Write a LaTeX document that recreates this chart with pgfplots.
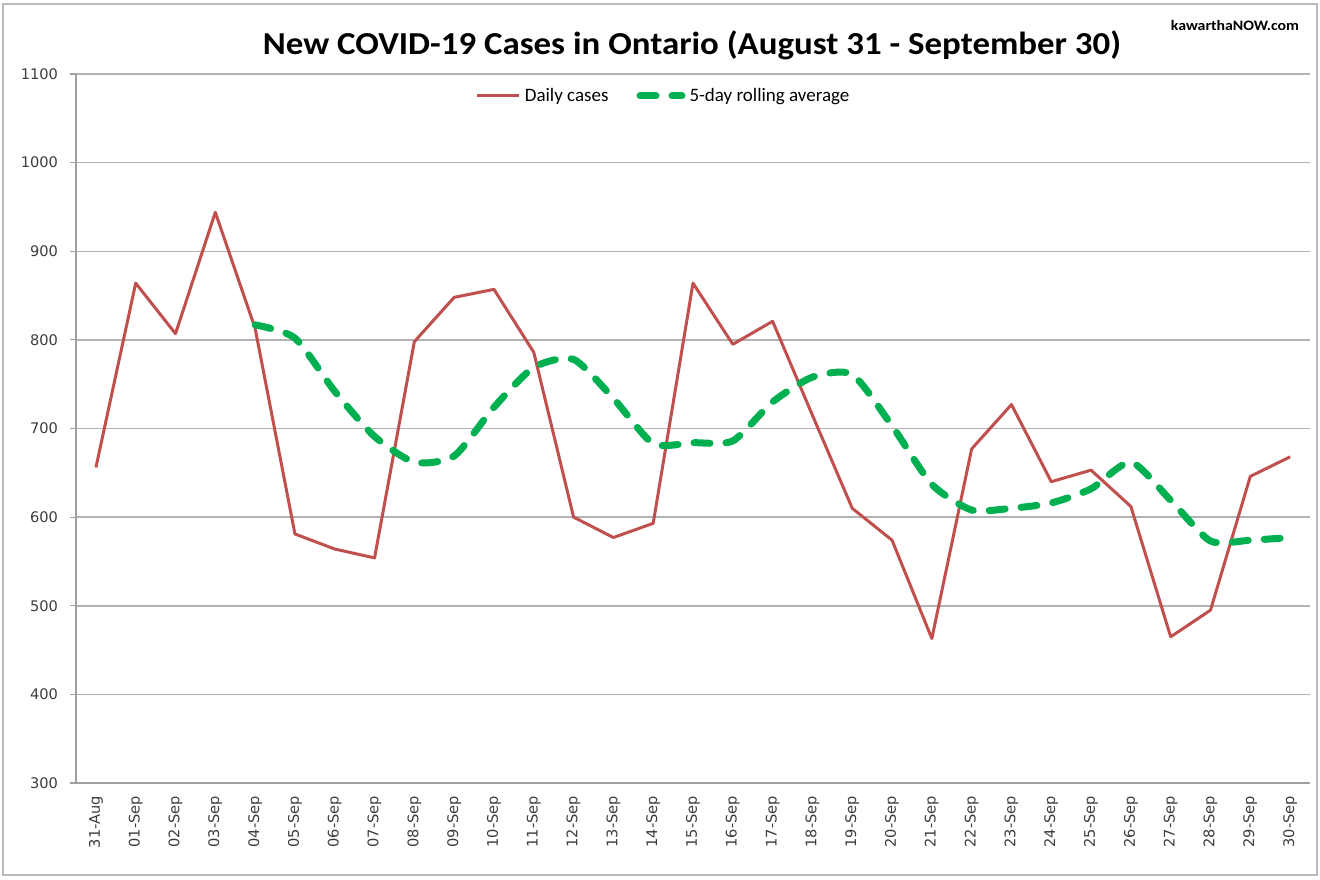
\documentclass[border=0pt]{standalone}
\usepackage{pgfplots}
\pgfplotsset{compat=1.18}
\usepackage{fontspec}
\setmainfont{Carlito}
\newfontfamily\verdana{DejaVu Sans}
\definecolor{redline}{RGB}{192,80,77}
\definecolor{greenline}{RGB}{0,176,80}
\definecolor{gridgray}{RGB}{178,178,178}
\definecolor{axgray}{RGB}{160,160,160}
\definecolor{ticktext}{RGB}{60,60,60}
\begin{document}
\begin{tikzpicture}
\useasboundingbox (0,0) rectangle (660pt,439.5pt);
\draw[gray!55,line width=0.6pt] (1.5pt,2pt) rectangle (658.5pt,437.5pt);
\node[font=\bfseries\fontsize{16}{18}\selectfont, xscale=1.09] at (346pt,417pt) {New COVID-19 Cases in Ontario (August 31 - September 30)};
\node[font=\bfseries\fontsize{7.2}{8}\selectfont, xscale=1.1] at (617.5pt,426.5pt) {kawarthaNOW.com};
\begin{axis}[
  at={(38pt,48pt)}, anchor=south west,
  scale only axis, width=617pt, height=354.5pt,
  xmin=-0.5, xmax=30.5, ymin=300, ymax=1100,
  ytick={300,400,...,1100},
  xtick={0,...,30},
  xticklabels={31-Aug,01-Sep,02-Sep,03-Sep,04-Sep,05-Sep,06-Sep,07-Sep,08-Sep,09-Sep,10-Sep,11-Sep,12-Sep,13-Sep,14-Sep,15-Sep,16-Sep,17-Sep,18-Sep,19-Sep,20-Sep,21-Sep,22-Sep,23-Sep,24-Sep,25-Sep,26-Sep,27-Sep,28-Sep,29-Sep,30-Sep},
  x tick label style={rotate=90, anchor=east, font=\verdana\fontsize{7.3}{8}\selectfont, text=ticktext},
  y tick label style={font=\verdana\fontsize{7.3}{8}\selectfont, text=ticktext, xshift=-2.5pt},
  /pgf/number format/assume math mode=true,
  /pgf/number format/1000 sep={},
  axis x line*=bottom, axis y line*=left,
  axis line style={axgray, line width=0.7pt, -},
  tick align=outside,
  x tick style={draw=none},
  y tick style={axgray, line width=0.6pt},
  major tick length=3pt,
  extra x ticks={-0.5,0.5,...,30.5},
  extra x tick labels={},
  extra x tick style={major tick length=3pt, tick style={axgray, line width=0.6pt}, grid=none},
  ymajorgrids, grid style={gridgray, line width=0.75pt},
  legend columns=2,
  legend style={draw=none, fill=none, at={(0.477,0.969)}, anchor=center, font=\fontsize{9.5}{10}\selectfont, /tikz/every even column/.append style={column sep=12pt}},
  legend cell align=left,
  legend image code/.code={\draw[#1] (0pt,0pt) -- (21pt,0pt);},
]
\addplot[redline, line width=1.5pt, line join=round] coordinates {
(0,656) (1,864) (2,807) (3,944) (4,813) (5,581) (6,564) (7,554) (8,798) (9,848) (10,857) (11,786) (12,600) (13,577) (14,593) (15,864) (16,795) (17,821) (18,715) (19,610) (20,574) (21,463) (22,677) (23,727) (24,640) (25,653) (26,612) (27,465) (28,495) (29,646) (30,668)
};
\addlegendentry{Daily cases}
\addplot[greenline, line width=3.5pt, line cap=round, dash pattern=on 8pt off 8pt, smooth, tension=0.4] coordinates {
(4,817) (5,802) (6,742) (7,691) (8,662) (9,669) (10,724) (11,769) (12,778) (13,734) (14,683) (15,684) (16,686) (17,730) (18,758) (19,761) (20,703) (21,637) (22,608) (23,610) (24,616) (25,632) (26,662) (27,619) (28,573) (29,574) (30,577)
};
\addlegendentry{5-day rolling average}
\end{axis}
\end{tikzpicture}
\end{document}
